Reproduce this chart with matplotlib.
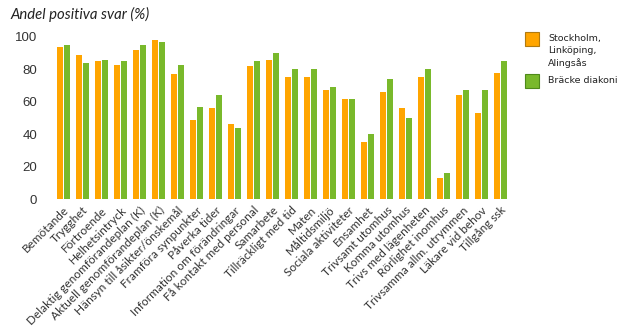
import numpy as np
import matplotlib
matplotlib.use("Agg")
import matplotlib.pyplot as plt
from matplotlib.patches import Rectangle

categories = [
    "Bemötande", "Trygghet", "Förtroende", "Helhetsintryck",
    "Delaktig genomförandeplan (K)", "Aktuell genomförandeplan (K)",
    "Hänsyn till åsikter/önskemål", "Framföra synpunkter", "Påverka tider",
    "Information om förändringar", "Få kontakt med personal", "Samarbete",
    "Tillräckligt med tid", "Maten", "Måltidsmiljö", "Sociala aktiviteter",
    "Ensamhet", "Trivsamt utomhus", "Komma utomhus", "Trivs med lägenheten",
    "Rörlighet inomhus", "Trivsamma allm. utrymmen", "Läkare vid behov",
    "Tillgång ssk",
]
stockholm = [94, 89, 85, 83, 92, 98, 77, 49, 56, 46, 82, 86, 75,
             75, 67, 62, 35, 66, 56, 75, 13, 64, 53, 78]
bracke = [95, 84, 86, 85, 95, 97, 83, 57, 64, 44, 85, 90, 80,
          80, 69, 62, 40, 74, 50, 80, 16, 67, 67, 85]
series_names = ["Stockholm,\nLinköping,\nAlingsås", "Bräcke diakoni"]
yticks = [0, 20, 40, 60, 80, 100]

ORANGE = "#FFA500"
GREEN = "#79B92B"
EDGES = ["#B07A10", "#4F8A1A"]

W, H = 630, 332
fig = plt.figure(figsize=(W / 100, H / 100), dpi=100)
ax = fig.add_axes([0.0857, 0.4006, 0.7238, 0.488])

x = np.arange(len(categories))
w = 0.32
ax.bar(x - 0.18, stockholm, width=w, color=ORANGE, linewidth=0)
ax.bar(x + 0.18, bracke, width=w, color=GREEN, linewidth=0)

ax.set_xlim(-0.5, len(categories) - 0.5)
ax.set_ylim(0, 100)
ax.set_yticks(yticks)
ax.set_yticklabels([str(v) for v in yticks], family="Liberation Sans",
                   fontsize=9.5, color="#333333")
ax.set_xticks(x)
ax.set_xticklabels(categories, rotation=45, ha="right", rotation_mode="anchor",
                   family="Lato", fontsize=8.5, color="#333333")
ax.tick_params(axis="both", length=0)
ax.tick_params(axis="y", pad=12)
ax.tick_params(axis="x", pad=4)
for s in ax.spines.values():
    s.set_visible(False)

fig.text(0.016, 0.955, "Andel positiva svar (%)", family="Lato", style="italic",
         fontsize=10.7, color="#222222", va="center", ha="left")

# legend: square key aligned with the first line of each label
key_tops = [32, 74]
for name, col, edge, top in zip(series_names, [ORANGE, GREEN], EDGES, key_tops):
    fig.add_artist(Rectangle((525 / W, 1 - (top + 14) / H), 14 / W, 14 / H,
                             transform=fig.transFigure, facecolor=col,
                             edgecolor=edge, linewidth=0.8))
    fig.text(548 / W, 1 - (top + 2) / H, name, family="DejaVu Sans",
             fontsize=6.8, color="#222222", va="top", ha="left",
             linespacing=1.38)

fig.savefig("out.png", dpi=100)
